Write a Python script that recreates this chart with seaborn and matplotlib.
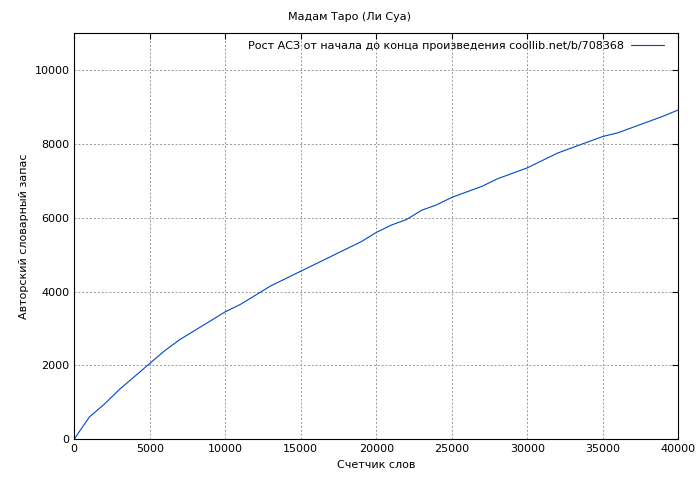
import matplotlib
matplotlib.use("Agg")
import matplotlib.pyplot as plt
import seaborn as sns
import pandas as pd

# word count vs. author vocabulary
words = [0, 1000, 2000, 3000, 4000, 5000, 6000, 7000, 8000, 9000, 10000,
         11000, 12000, 13000, 14000, 15000, 16000, 17000, 18000, 19000, 20000,
         21000, 22000, 23000, 24000, 25000, 26000, 27000, 28000, 29000, 30000,
         31000, 32000, 33000, 34000, 35000, 36000, 37000, 38000, 39000, 40000]
vocab = [0, 600, 950, 1350, 1700, 2050, 2400, 2700, 2950, 3200, 3450,
         3650, 3900, 4150, 4350, 4550, 4750, 4950, 5150, 5350, 5600,
         5800, 5950, 6200, 6350, 6550, 6700, 6850, 7050, 7200, 7350,
         7550, 7750, 7900, 8050, 8200, 8300, 8450, 8600, 8750, 8920]

df = pd.DataFrame({"words": words, "vocab": vocab})

sns.set_style("white")
plt.rcParams["font.family"] = ["DejaVu Sans"]
plt.rcParams["font.size"] = 8
plt.rcParams["text.color"] = "black"
plt.rcParams["axes.labelcolor"] = "black"
plt.rcParams["xtick.color"] = "black"
plt.rcParams["ytick.color"] = "black"

fig = plt.figure(figsize=(7, 4.8), dpi=100)
ax = fig.add_axes([0.106, 0.085, 0.863, 0.846])

sns.lineplot(data=df, x="words", y="vocab", ax=ax, color="#0047c8", linewidth=0.8,
             label="Рост АСЗ от начала до конца произведения coollib.net/b/708368")

ax.set_xlim(0, 40000)
ax.set_ylim(0, 11000)
ax.set_xticks(range(0, 40001, 5000))
ax.set_yticks(range(0, 10001, 2000))
ax.grid(True, color="#999999", linestyle=(0, (2, 2)), linewidth=0.7)
for s in ax.spines.values():
    s.set_color("black")
    s.set_linewidth(0.8)
ax.tick_params(direction="in", length=4, labelsize=8, top=True, right=True)
ax.set_xlabel("Счетчик слов", fontsize=8)
ax.set_ylabel("Авторский словарный запас", fontsize=8)
fig.suptitle("Мадам Таро (Ли Суа)", fontsize=8, y=0.975)
ax.legend(loc="upper right", frameon=False, markerfirst=False, fontsize=8,
          handlelength=3.0, handletextpad=0.6, borderaxespad=0.3,
          bbox_to_anchor=(0.99, 1.0))

fig.savefig("out.png", dpi=100)
